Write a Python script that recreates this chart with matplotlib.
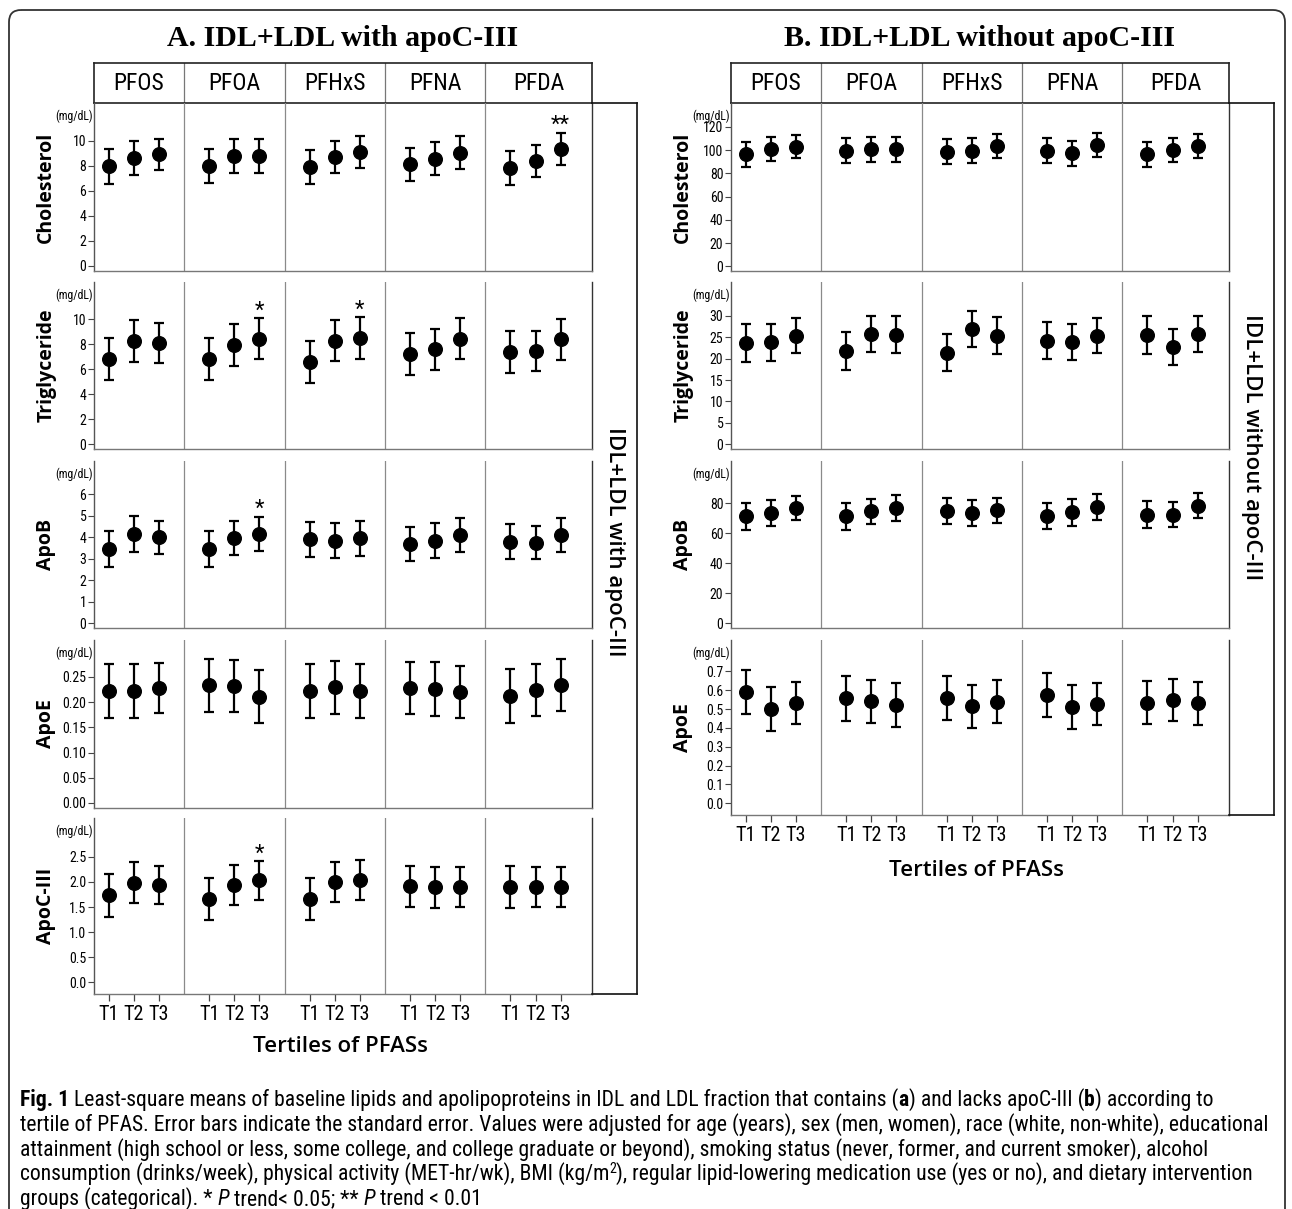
import matplotlib
matplotlib.use('Agg')
import matplotlib.pyplot as plt
from matplotlib import font_manager
from matplotlib.font_manager import FontProperties
from matplotlib.patches import FancyBboxPatch

_have = {f.name for f in font_manager.fontManager.ttflist}
GEO = 'Open Sans' if 'Open Sans' in _have else 'DejaVu Sans'
SERIF = 'Liberation Serif'


def narrow_font(weight=400, style='normal'):
    # the original uses a condensed sans; take the first condensed face installed
    prefs = [('Liberation Sans Narrow', None), ('Roboto Condensed', None), ('Open Sans Condensed', None),
             ('DejaVu Sans', 'condensed'), ('Noto Sans', 'condensed'), ('Roboto', 'condensed'),
             ('Open Sans', 'condensed')]
    for name, stretch in prefs:
        for f in font_manager.fontManager.ttflist:
            try:
                w = int(f.weight)
            except (TypeError, ValueError):
                w = 700 if 'bold' in str(f.weight) else 400
            if f.name == name and f.style == style and abs(w - weight) < 100 \
                    and (stretch is None or f.stretch == stretch):
                return FontProperties(fname=f.fname)
    return FontProperties(family='Liberation Sans', weight=weight, style=style)


NFP = narrow_font()
NFP_B = narrow_font(700)
NFP_I = narrow_font(400, 'italic')

compounds = ['PFOS', 'PFOA', 'PFHxS', 'PFNA', 'PFDA']
tertiles = ['T1', 'T2', 'T3']

# A. IDL+LDL with apoC-III -- least-square means and SE, [compound][tertile]
a_chol = [[7.95, 8.6, 8.9], [7.95, 8.8, 8.8], [7.9, 8.7, 9.1], [8.1, 8.55, 9.05], [7.8, 8.35, 9.35]]
a_chol_se = [[1.4, 1.33, 1.25], [1.35, 1.35, 1.35], [1.35, 1.3, 1.3], [1.33, 1.33, 1.3], [1.38, 1.28, 1.28]]
a_tg = [[6.8, 8.25, 8.1], [6.8, 7.95, 8.45], [6.55, 8.3, 8.5], [7.2, 7.6, 8.45], [7.4, 7.45, 8.4]]
a_tg_se = [[1.7, 1.68, 1.58], [1.7, 1.65, 1.65], [1.68, 1.63, 1.68], [1.68, 1.65, 1.63], [1.7, 1.63, 1.63]]
a_apob = [[3.45, 4.15, 4.0], [3.45, 3.95, 4.15], [3.9, 3.85, 3.95], [3.7, 3.85, 4.1], [3.8, 3.75, 4.1]]
a_apob_se = [[0.83, 0.82, 0.78], [0.83, 0.79, 0.81], [0.83, 0.82, 0.83], [0.8, 0.8, 0.8], [0.83, 0.78, 0.8]]
a_apoe = [[0.222, 0.222, 0.228], [0.233, 0.232, 0.211], [0.222, 0.229, 0.222], [0.228, 0.226, 0.220], [0.212, 0.224, 0.234]]
a_apoe_se = [[0.054, 0.054, 0.05], [0.053, 0.051, 0.052], [0.053, 0.052, 0.053], [0.052, 0.053, 0.051], [0.053, 0.051, 0.051]]
a_apoc3 = [[1.73, 1.98, 1.94], [1.66, 1.94, 2.03], [1.66, 2.0, 2.04], [1.91, 1.89, 1.9], [1.9, 1.9, 1.9]]
a_apoc3_se = [[0.42, 0.41, 0.38], [0.41, 0.4, 0.39], [0.41, 0.4, 0.4], [0.4, 0.41, 0.4], [0.41, 0.4, 0.4]]

# B. IDL+LDL without apoC-III
b_chol = [[96.5, 101, 103], [99.5, 100.5, 100.5], [98.5, 99.5, 103.5], [99.5, 97, 104], [96.5, 100, 103.5]]
b_chol_se = [[10.7, 10.5, 9.8], [10.5, 10.7, 10.5], [10.7, 10.5, 10.5], [10.7, 10.7, 10.2], [10.7, 10.2, 10.2]]
b_tg = [[23.7, 23.8, 25.4], [21.8, 25.7, 25.6], [21.4, 26.9, 25.4], [24.2, 23.9, 25.4], [25.5, 22.8, 25.8]]
b_tg_se = [[4.5, 4.4, 4.1], [4.4, 4.2, 4.25], [4.35, 4.2, 4.3], [4.25, 4.3, 4.15], [4.45, 4.2, 4.2]]
b_apob = [[71.3, 73.3, 76.8], [71.2, 74.5, 77.0], [74.5, 73.4, 75.4], [71.7, 73.9, 77.3], [72.4, 72.4, 78.3]]
b_apob_se = [[8.9, 8.65, 8.15], [8.85, 8.35, 8.65], [8.65, 8.55, 8.4], [8.65, 8.75, 8.55], [8.8, 8.3, 8.45]]
b_apoe = [[0.590, 0.498, 0.532], [0.558, 0.541, 0.521], [0.558, 0.516, 0.539], [0.574, 0.511, 0.528], [0.532, 0.546, 0.531]]
b_apoe_se = [[0.119, 0.117, 0.11], [0.119, 0.113, 0.116], [0.118, 0.114, 0.114], [0.115, 0.115, 0.112], [0.114, 0.111, 0.114]]

# P trend markers: (compound, tertile, symbol)
a_chol_stars = [(4, 2, '**')]
a_tg_stars = [(1, 2, '*'), (2, 2, '*')]
a_apob_stars = [(1, 2, '*')]
a_apoc3_stars = [(1, 2, '*')]

W, H = 1292, 1209
fig = plt.figure(figsize=(W / 100, H / 100), dpi=100)

def px_axes(x0, y0, x1, y1):
    return fig.add_axes([x0 / W, 1 - y1 / H, (x1 - x0) / W, (y1 - y0) / H])

x_pos = [[4 * g + t for t in range(3)] for g in range(5)]
XLIM = (-0.59, 19.25)
DIVIDERS = [3, 7, 11, 15]


def draw_row(ax, means, ses, ylim, ticks, fmt, label, stars, last):
    ax.set_facecolor('none')
    for g in range(5):
        ax.errorbar(x_pos[g], means[g], yerr=ses[g], fmt='o', color='black', ms=9.8,
                    capsize=3.6, elinewidth=1.6, capthick=1.6)
    for v in DIVIDERS:
        ax.axvline(v, color='#8a8a8a', lw=0.9, zorder=0)
    for g, t, sym in stars:
        ax.annotate(sym, (x_pos[g][t], means[g][t] + ses[g][t]), xytext=(0, 5),
                    textcoords='offset points', ha='center', va='center',
                    fontproperties=NFP, fontsize=16)
    ax.set_xlim(*XLIM)
    ax.set_ylim(*ylim)
    ax.set_yticks(ticks)
    ax.set_yticklabels([fmt % v for v in ticks], fontproperties=NFP, fontsize=10)
    ax.tick_params(axis='y', length=4, width=0.8, color='#444', pad=1.5)
    if last:
        ax.set_xticks([x for grp in x_pos for x in grp])
        ax.set_xticklabels(tertiles * 5, fontproperties=NFP, fontsize=14.5)
        ax.tick_params(axis='x', length=5, width=0.9, color='#444', pad=3)
    else:
        ax.set_xticks([])
    ax.spines['top'].set_visible(False)
    ax.spines['left'].set_color('#555')
    ax.spines['bottom'].set_color('#777')
    ax.spines['right'].set_color('#333')
    for s in ax.spines.values():
        s.set_linewidth(1.0)
    ax.text(-0.096, 0.5, label, transform=ax.transAxes, rotation=90, ha='center',
            va='center', family=GEO, weight='bold', fontsize=14)
    ax.annotate('(mg/dL)', (0, 1), xycoords='axes fraction', xytext=(-1, -9.5),
                textcoords='offset points', ha='right', va='center',
                fontproperties=NFP, fontsize=8.5)


def draw_panel(left, right, rows, outcomes, strip_text, strip_y):
    hdr = px_axes(left, 63, right, 103)
    hdr.set_xlim(*XLIM)
    hdr.set_ylim(0, 1)
    hdr.set_xticks([])
    hdr.set_yticks([])
    for v in DIVIDERS:
        hdr.axvline(v, color='#777', lw=0.9)
    for s in hdr.spines.values():
        s.set_color('#222')
        s.set_linewidth(1.2)
    edges = [XLIM[0]] + DIVIDERS + [XLIM[1]]
    for i, name in enumerate(compounds):
        hdr.text((edges[i] + edges[i + 1]) / 2, 0.5, name, ha='center', va='center',
                 fontproperties=NFP, fontsize=17)
    for i, (y0, y1) in enumerate(rows):
        ax = px_axes(left, y0, right, y1)
        draw_row(ax, *outcomes[i], last=(i == len(rows) - 1))
    top, bot = rows[0][0], rows[-1][1]
    strip = px_axes(right, top, right + 45, bot)
    strip.set_xticks([])
    strip.set_yticks([])
    strip.set_facecolor('none')
    strip.spines['left'].set_visible(False)
    for s in ['top', 'right', 'bottom']:
        strip.spines[s].set_color('#111')
        strip.spines[s].set_linewidth(1.2)
    strip.text(0.5, (bot - strip_y) / (bot - top), strip_text, rotation=-90, ha='center', va='center',
               transform=strip.transAxes, family=GEO, weight='semibold', fontsize=16)


rows_a = [(103, 271), (282, 449), (461, 628), (640, 808), (818, 994)]
rows_b = [(103, 271), (282, 449), (461, 628), (640, 815)]

outcomes_a = [
    (a_chol, a_chol_se, (-0.4, 13.0), [0, 2, 4, 6, 8, 10], '%d', 'Cholesterol', a_chol_stars),
    (a_tg, a_tg_se, (-0.4, 13.0), [0, 2, 4, 6, 8, 10], '%d', 'Triglyceride', a_tg_stars),
    (a_apob, a_apob_se, (-0.22, 7.55), [0, 1, 2, 3, 4, 5, 6], '%d', 'ApoB', a_apob_stars),
    (a_apoe, a_apoe_se, (-0.01, 0.323), [0, 0.05, 0.10, 0.15, 0.20, 0.25], '%.2f', 'ApoE', ()),
    (a_apoc3, a_apoc3_se, (-0.23, 3.27), [0, 0.5, 1.0, 1.5, 2.0, 2.5], '%.1f', 'ApoC-III', a_apoc3_stars),
]
outcomes_b = [
    (b_chol, b_chol_se, (-4.0, 140.4), [0, 20, 40, 60, 80, 100, 120], '%d', 'Cholesterol', ()),
    (b_tg, b_tg_se, (-1.1, 37.9), [0, 5, 10, 15, 20, 25, 30], '%d', 'Triglyceride', ()),
    (b_apob, b_apob_se, (-3.06, 108.1), [0, 20, 40, 60, 80], '%d', 'ApoB', ()),
    (b_apoe, b_apoe_se, (-0.062, 0.866), [0, 0.1, 0.2, 0.3, 0.4, 0.5, 0.6, 0.7], '%.1f', 'ApoE', ()),
]

draw_panel(94, 592, rows_a, outcomes_a, 'IDL+LDL with apoC-III', 542)
draw_panel(731, 1229, rows_b, outcomes_b, 'IDL+LDL without apoC-III', 447)

# overlay in pixel coordinates for titles, caption and frame
over = fig.add_axes([0, 0, 1, 1], zorder=-1)
over.set_xlim(0, W)
over.set_ylim(H, 0)
over.axis('off')
# frame: rounded top corners, open at the bottom edge of the picture
over.add_patch(FancyBboxPatch((9, 10), 1276, 1260, boxstyle='round,pad=0,rounding_size=12',
                              fill=False, lw=1.3, ec='#333'))
over.text(343, 38, 'A. IDL+LDL with apoC-III', family=SERIF, weight='bold', fontsize=21.5,
          ha='center', va='center')
over.text(980, 38, 'B. IDL+LDL without apoC-III', family=SERIF, weight='bold', fontsize=21.5,
          ha='center', va='center')
over.text(340, 1047, 'Tertiles of PFASs', family=GEO, weight='semibold', fontsize=16,
          ha='center', va='center')
over.text(976, 870, 'Tertiles of PFASs', family=GEO, weight='semibold', fontsize=16,
          ha='center', va='center')

caption = [
    [('Fig. 1', 'b'), (' Least-square means of baseline lipids and apolipoproteins in IDL and LDL fraction that contains (', ''),
     ('a', 'b'), (') and lacks apoC-III (', ''), ('b', 'b'), (') according to', '')],
    [('tertile of PFAS. Error bars indicate the standard error. Values were adjusted for age (years), sex (men, women), race (white, non-white), educational', '')],
    [('attainment (high school or less, some college, and college graduate or beyond), smoking status (never, former, and current smoker), alcohol', '')],
    [('consumption (drinks/week), physical activity (MET-hr/wk), BMI (kg/m', ''), ('2', 's'),
     ('), regular lipid-lowering medication use (yes or no), and dietary intervention', '')],
    [('groups (categorical). * ', ''), ('P', 'i'), (' trend< 0.05; ** ', ''), ('P', 'i'), (' trend < 0.01', '')],
]

renderer = fig.canvas.get_renderer()
probe = over.text(0, 0, caption[1][0][0], fontproperties=NFP, fontsize=10)
cap_fs = 10 * 1242 / probe.get_window_extent(renderer).width
probe.remove()

styles = {'': NFP, 'b': NFP_B, 'i': NFP_I, 's': NFP}
for k, line in enumerate(caption):
    x = 20
    y = 1106 + 24.7 * k
    for txt, st in line:
        fs, yy = cap_fs, y
        if st == 's':
            fs, yy = cap_fs * 0.65, y - 7
        t = over.text(x, yy, txt, fontproperties=styles[st], fontsize=fs, va='baseline', ha='left')
        x += t.get_window_extent(renderer).width

fig.savefig('out.png', dpi=100)
